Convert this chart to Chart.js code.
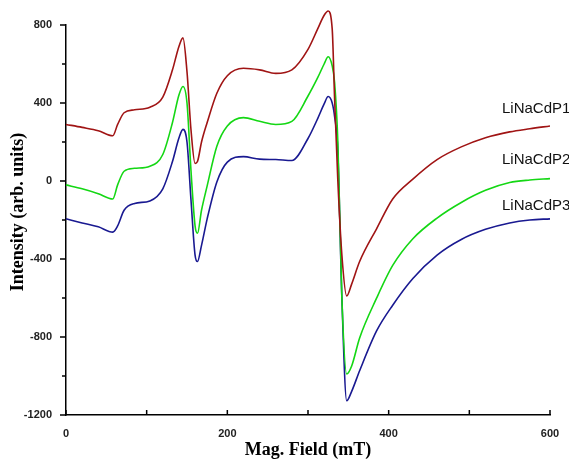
<!DOCTYPE html>
<html>
<head>
<meta charset="utf-8">
<script src="https://cdn.jsdelivr.net/npm/chart.js@4"></script>
<style>
  html, body { margin: 0; padding: 0; background: #fff; }
  #box { width: 569px; height: 461px; }
</style>
</head>
<body>
<div id="box"><canvas id="epr" width="569" height="461"></canvas></div>
<script>
// magnetic field (mT), shared by all three spectra
const field = [0, 20, 40, 58, 64, 72, 85, 104, 120, 132, 140, 145, 150, 155, 160, 163, 168, 175, 187, 200,
    220, 240, 260, 280, 300, 312, 320, 325, 330, 333, 337, 342, 348, 354, 364, 385, 405, 430, 460, 490,
    520, 550, 575, 600]

const p1 = [290, 275, 258, 232, 290, 350, 365, 378, 430, 570, 690, 734, 560, 260, 90, 100, 200, 300, 450, 540,
    578, 570, 552, 570, 675, 780, 850, 872, 780, 420, 0, -380, -590, -530, -413, -245, -92, 10, 110, 175,
    222, 252, 268, 282]

const p2 = [-20, -40, -65, -92, -20, 50, 65, 76, 136, 300, 441, 485, 400, 50, -230, -268, -150, -25, 178, 282,
    325, 306, 290, 306, 436, 530, 600, 637, 590, 504, 200, -600, -990, -950, -805, -601, -433, -296, -190, -110,
    -48, -8, 5, 12]

const p3 = [-194, -215, -235, -262, -230, -150, -115, -102, -40, 100, 220, 265, 200, -100, -380, -413, -330, -194, -5, 97,
    125, 112, 110, 105, 218, 320, 395, 433, 400, 330, 150, -600, -1127, -1080, -973, -769, -637, -500, -380, -300,
    -248, -215, -200, -194]

const names = ['LiNaCdP1', 'LiNaCdP2', 'LiNaCdP3']
const colors = ['rgb(160, 20, 20)', 'rgb(20, 215, 20)', 'rgb(25, 25, 145)']
const yTicks = [-1200, -800, -400, 0, 400, 800]
const xTicks = [0, 200, 400, 600]

const toPoints = (ys) => field.map((x, i) => ({ x: x, y: ys[i] }))

// tick marks: y outward, x inward, plus the sample names at the right
const marks = {
    id: 'marks',
    afterDraw(chart) {
        const ctx = chart.ctx
        const xs = chart.scales.x
        const ys = chart.scales.y
        const a = chart.chartArea
        ctx.save()
        ctx.strokeStyle = '#000'
        ctx.lineWidth = 1.5
        ctx.beginPath()
        for (let v = -1200; v <= 800; v += 200) {
            const py = ys.getPixelForValue(v)
            const len = v % 400 === 0 ? 6 : 4
            ctx.moveTo(a.left, py)
            ctx.lineTo(a.left - len, py)
        }
        for (let v = 0; v <= 600; v += 100) {
            const px = xs.getPixelForValue(v)
            ctx.moveTo(px, a.bottom)
            ctx.lineTo(px, a.bottom - 5)
        }
        ctx.stroke()

        ctx.fillStyle = '#111'
        ctx.font = '15px "Liberation Sans", Arial, sans-serif'
        ctx.textBaseline = 'middle'
        const at = [369, 108, -128]
        names.forEach((n, i) => {
            ctx.fillText(n, xs.getPixelForValue(600) - 48, ys.getPixelForValue(at[i]))
        })

        ctx.fillStyle = '#000'
        ctx.font = 'bold 18px "Liberation Serif", "Times New Roman", serif'
        ctx.textAlign = 'center'
        ctx.translate(18, 212)
        ctx.rotate(-Math.PI / 2)
        ctx.fillText('Intensity (arb. units)', 0, 0)
        ctx.restore()
    }
}

new Chart(document.getElementById('epr'), {
    type: 'line',
    data: {
        datasets: names.map((n, i) => ({
            label: n,
            data: toPoints([p1, p2, p3][i]),
            borderColor: colors[i],
            borderWidth: 1.6,
            pointRadius: 0,
            fill: false,
            cubicInterpolationMode: 'monotone',
            clip: false
        }))
    },
    options: {
        responsive: false,
        animation: false,
        layout: { padding: { top: 25, right: 19, left: 0, bottom: 0 } },
        plugins: {
            legend: { display: false },
            tooltip: { enabled: false }
        },
        scales: {
            x: {
                type: 'linear',
                min: 0,
                max: 600,
                grid: { display: false },
                border: { display: true, color: '#000', width: 1.5 },
                ticks: {
                    stepSize: 200,
                    padding: 4,
                    color: '#222',
                    font: { family: '"Liberation Sans", Arial, sans-serif', size: 11, weight: 'bold' },
                    callback: (val) => xTicks.includes(val) ? val : ''
                },
                title: {
                    display: true,
                    text: 'Mag. Field (mT)',
                    color: '#000',
                    padding: { top: 2, bottom: 0 },
                    font: { family: '"Liberation Serif", "Times New Roman", serif', size: 18, weight: 'bold' }
                },
                afterFit: (scale) => { scale.height = 46 }
            },
            y: {
                min: -1200,
                max: 800,
                grid: { display: false },
                border: { display: true, color: '#000', width: 1.5 },
                ticks: {
                    stepSize: 400,
                    padding: 6,
                    color: '#222',
                    font: { family: '"Liberation Sans", Arial, sans-serif', size: 11, weight: 'bold' },
                    callback: (val) => yTicks.includes(val) ? val : ''
                },
                afterFit: (scale) => { scale.width = 66 }
            }
        }
    },
    plugins: [marks]
})
</script>
</body>
</html>
